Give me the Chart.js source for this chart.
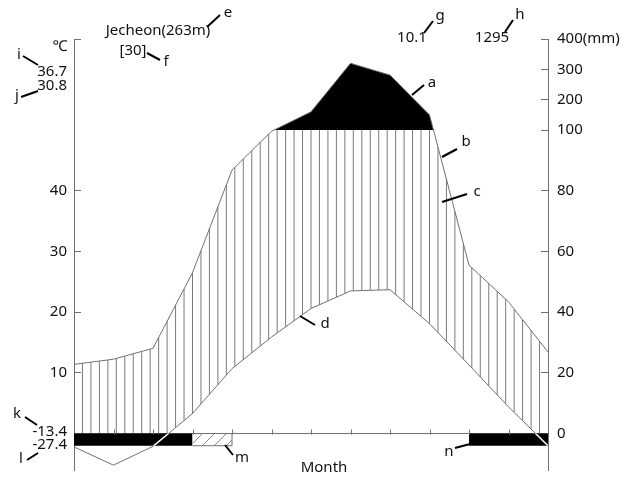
<!DOCTYPE html>
<html>
<head>
<meta charset="utf-8">
<script src="https://cdn.jsdelivr.net/npm/chart.js@4/dist/chart.umd.min.js"></script>
<style>
  html, body { margin: 0; padding: 0; background: #fff; }
</style>
</head>
<body>
<canvas id="climate" width="633" height="477"></canvas>
<script>
// station info
const stationName = 'Jecheon';
const stationAlt = 263;
const recordYears = 30;
const annualMeanTemp = 10.1;
const annualPrecip = 1295;
const absMaxTemp = 36.7;
const warmMonthMaxTemp = 30.8;
const coldMonthMinTemp = -13.4;
const absMinTemp = -27.4;

// points sit on month boundaries, 0..12
const monthPos = [0, 1, 2, 3, 4, 5, 6, 7, 8, 9, 10, 11, 12];
const tempMean = [-2.2, -5.2, -2.1, 3.3, 10.7, 15.9, 20.6, 23.5, 23.7, 18.1, 11.3, 4.4, -2.0];
const precipMm = [22.8, 24.5, 28.1, 53, 86.8, 99.6, 160, 320, 281, 150, 55.5, 43.4, 26.9];
// per month: 2 = mean daily min below zero, 1 = absolute min below zero
const frostClass = [2, 2, 2, 1, 0, 0, 0, 0, 0, 0, 2, 2];

const tempTicks = [10, 20, 30, 40];
const precipTicks = [0, 20, 40, 60, 80, 100, 200, 300, 400];
const precipTickLabels = ['0', '20', '40', '60', '80', '100', '200', '300', '400(mm)'];

const scaleMin = -6, scaleMax = 65;
const frostDepth = 2;
const hatchCount = 56;
const lineGrey = '#707070';

// 10 degC = 20 mm, above 100 mm the scale is compressed ten times
function precipToScale(mm) {
  return mm <= 100 ? mm / 2 : 50 + (mm - 100) / 20;
}
const precipScaled = precipMm.map(precipToScale);

function valueAt(series, pos) {
  const i = Math.min(Math.floor(pos), series.length - 2);
  return series[i] + (series[i + 1] - series[i]) * (pos - i);
}

function frostRuns() {
  const runs = [];
  frostClass.forEach((c, m) => {
    if (!c) return;
    const last = runs[runs.length - 1];
    if (last && last.cls === c && last.end === m) last.end = m + 1;
    else runs.push({cls: c, start: m, end: m + 1});
  });
  return runs;
}

const canvas = document.getElementById('climate');
const ctx = canvas.getContext('2d');

function diagPattern() {
  const c = document.createElement('canvas');
  c.width = 12; c.height = 12;
  const g = c.getContext('2d');
  g.strokeStyle = '#8a8a8a';
  g.lineWidth = 1;
  g.beginPath();
  g.moveTo(0, 12); g.lineTo(12, 0);
  g.moveTo(-1, 1); g.lineTo(1, -1);
  g.moveTo(11, 13); g.lineTo(13, 11);
  g.stroke();
  return ctx.createPattern(c, 'repeat');
}

const runs = frostRuns();
const frostSets = runs.map(r => {
  const pts = [{x: r.start, y: -frostDepth}, {x: r.end, y: -frostDepth}];
  if (r.cls === 1) pts.push({x: r.end, y: 0});
  return {
    data: pts,
    borderWidth: r.cls === 1 ? 1 : 0,
    borderColor: lineGrey,
    backgroundColor: r.cls === 2 ? '#000' : diagPattern(),
    fill: {target: {value: 0}},
    pointRadius: 0,
    order: 0
  };
});

const tempSet = {
  data: monthPos.map((m, i) => ({x: m, y: tempMean[i]})),
  borderColor: lineGrey,
  borderWidth: 1,
  pointRadius: 0,
  fill: false,
  order: 1
};

const precipSet = {
  data: monthPos.map((m, i) => ({x: m, y: precipScaled[i]})),
  borderColor: lineGrey,
  borderWidth: 1,
  pointRadius: 0,
  fill: {target: {value: 50}, above: '#000', below: 'rgba(0,0,0,0)'},
  order: 2
};

// vertical hatching of the humid season, between rain (cut at 100 mm) and temperature
const humidHatch = {
  id: 'humidHatch',
  beforeDatasetsDraw(chart) {
    const {ctx, scales: {x, y}} = chart;
    const step = (x.max - x.min) / hatchCount;
    ctx.save();
    ctx.strokeStyle = '#7a7a7a';
    ctx.lineWidth = 1;
    ctx.beginPath();
    for (let k = 1; k < hatchCount; k++) {
      const v = x.min + k * step;
      const top = Math.min(valueAt(precipScaled, v), 50);
      const bot = Math.max(valueAt(tempMean, v), 0);
      if (top <= bot) continue;
      const px = x.getPixelForValue(v);
      ctx.moveTo(px, y.getPixelForValue(top));
      ctx.lineTo(px, y.getPixelForValue(bot));
    }
    ctx.stroke();
    ctx.restore();
  },
  afterDatasetsDraw(chart) {
    const {ctx, scales: {x, y}} = chart;

    // temperature line shows white where it runs through the black frost bars
    const meta = chart.getDatasetMeta(chart.data.datasets.indexOf(tempSet));
    ctx.save();
    ctx.beginPath();
    runs.filter(r => r.cls === 2).forEach(r => {
      const x0 = x.getPixelForValue(r.start), x1 = x.getPixelForValue(r.end);
      const y0 = y.getPixelForValue(0), y1 = y.getPixelForValue(-frostDepth);
      ctx.rect(x0, y0, x1 - x0, y1 - y0);
    });
    ctx.clip();
    ctx.strokeStyle = '#fff';
    ctx.lineWidth = 1.5;
    ctx.beginPath();
    meta.data.forEach((p, i) => i ? ctx.lineTo(p.x, p.y) : ctx.moveTo(p.x, p.y));
    ctx.stroke();
    ctx.restore();

    // month ticks standing up from the zero line
    const y0 = Math.round(y.getPixelForValue(0)) + 0.5;
    ctx.save();
    ctx.strokeStyle = lineGrey;
    ctx.lineWidth = 1;
    ctx.beginPath();
    monthPos.slice(1, -1).forEach(m => {
      const px = Math.round(x.getPixelForValue(m)) + 0.5;
      ctx.moveTo(px, y0);
      ctx.lineTo(px, y0 - 5);
    });
    ctx.stroke();
    ctx.restore();
  }
};

// station text and lettered call-outs
const notes = {
  id: 'notes',
  afterDraw(chart) {
    const c = chart.ctx;
    c.save();
    c.fillStyle = '#111';
    c.font = '15px "Noto Sans"';
    c.textBaseline = 'middle';
    const put = (t, x, y, align) => { c.textAlign = align || 'center'; c.fillText(t, x, y); };
    put(stationName + '(' + stationAlt + 'm)', 158, 31);
    put('[' + recordYears + ']', 133, 51);
    put('℃', 60, 47);
    put(String(absMaxTemp), 67, 72, 'right');
    put(String(warmMonthMaxTemp), 67, 86, 'right');
    put(annualMeanTemp.toFixed(1), 412, 38);
    put(String(annualPrecip), 492, 38);
    put(String(coldMonthMinTemp), 67, 432, 'right');
    put(String(absMinTemp), 67, 445, 'right');
    put('Month', 324, 468);

    const letters = [
      ['a', 432, 83, 412, 95, 424, 85],
      ['b', 466, 142, 442, 157, 457, 149],
      ['c', 477, 192, 442, 202, 467, 194],
      ['d', 325, 324, 300, 316, 315, 325],
      ['e', 228, 13, 207, 27, 220, 15],
      ['f', 166, 62, 147, 53, 160, 60],
      ['g', 440, 16, 424, 33, 433, 21],
      ['h', 520, 15, 505, 32, 513, 20],
      ['i', 19, 55, 23, 56, 38, 65],
      ['j', 17, 96, 21, 97, 38, 91],
      ['k', 17, 414, 25, 417, 37, 425],
      ['l', 21, 459, 27, 460, 38, 453],
      ['m', 242, 458, 225, 445, 233, 455],
      ['n', 449, 452, 455, 448, 470, 444]
    ];
    c.strokeStyle = '#000';
    c.lineWidth = 2;
    letters.forEach(([t, tx, ty, x1, y1, x2, y2]) => {
      c.beginPath(); c.moveTo(x1, y1); c.lineTo(x2, y2); c.stroke();
      put(t, tx, ty);
    });
    c.restore();
  }
};

// keep tick labels from pushing the plot area in
function fixSide(width) {
  return s => {
    s.width = width;
    s.paddingTop = 0;
    s.paddingBottom = 0;
  };
}

Chart.defaults.font.family = '"Noto Sans", sans-serif';
Chart.defaults.font.size = 15;
Chart.defaults.color = '#111';

new Chart(ctx, {
  type: 'line',
  data: {datasets: [...frostSets, tempSet, precipSet]},
  options: {
    responsive: false,
    animation: false,
    events: [],
    layout: {padding: {top: 39, bottom: 7, left: 0, right: 0}},
    plugins: {legend: {display: false}, tooltip: {enabled: false}},
    scales: {
      x: {
        type: 'linear',
        position: {y: 0},
        min: 0, max: 12,
        afterBuildTicks: s => { s.ticks = monthPos.map(v => ({value: v})); },
        afterFit: s => { s.height = 0; s.paddingLeft = 0; s.paddingRight = 0; },
        ticks: {display: false},
        grid: {display: false},
        border: {display: true, color: lineGrey}
      },
      y: {
        position: 'left',
        min: scaleMin, max: scaleMax,
        afterBuildTicks: s => { s.ticks = [...tempTicks, scaleMax].map(v => ({value: v})); },
        afterFit: fixSide(74),
        ticks: {padding: 14, callback: v => tempTicks.includes(v) ? String(v) : ''},
        grid: {drawOnChartArea: false, tickLength: -7, color: lineGrey},
        border: {color: lineGrey}
      },
      yR: {
        position: 'right',
        min: scaleMin, max: scaleMax,
        afterBuildTicks: s => { s.ticks = precipTicks.map(mm => ({value: precipToScale(mm)})); },
        afterFit: fixSide(85),
        ticks: {padding: 16, callback: (v, i) => precipTickLabels[i]},
        grid: {drawOnChartArea: false, tickLength: -7, color: lineGrey},
        border: {color: lineGrey}
      }
    }
  },
  plugins: [humidHatch, notes]
});
</script>
</body>
</html>
